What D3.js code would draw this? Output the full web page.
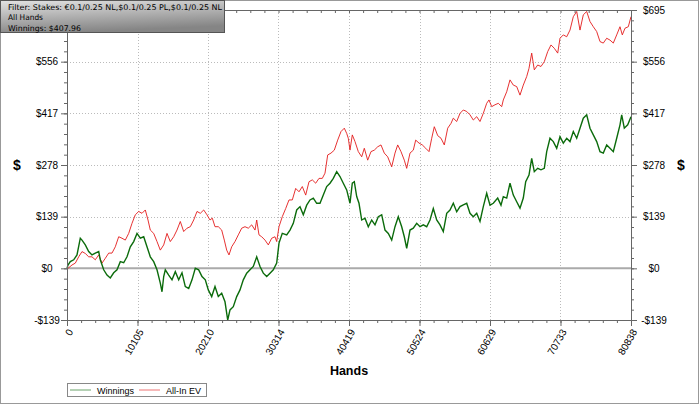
<!DOCTYPE html>
<html><head><meta charset="utf-8">
<script src="https://cdn.jsdelivr.net/npm/d3@7"></script>
<style>body{margin:0;background:#fff}svg{display:block}</style>
</head><body>
<svg id="c" width="700" height="407"></svg>
<script>
// ---- data ----
const xTicks = [0, 10105, 20210, 30314, 40419, 50524, 60629, 70733, 80838];
const yTicks = [-139, 0, 139, 278, 417, 556, 695];
const seriesNames = ["Winnings", "All-In EV"];
const filterLines = ["Filter: Stakes: €0.1/0.25 NL,$0.1/0.25 PL,$0.1/0.25 NL", "All Hands", "Winnings: $407.96"];

const winHands = [0,143,473,960,1433,1906,2150,2623,3110,3583,4056,4544,4773,5260,5733,6206,6694,7167,7640,8127,8600,9073,9560,10033,10506,10993,11466,11940,12427,12900,13373,13617,13860,14090,14576,15050,15523,16010,16483,16956,17443,17916,18389,18876,19350,19823,20253,20740,21213,21686,22173,22646,23033,23363,23836,24323,24796,25269,25756,26229,26703,27190,27663,28136,28623,29096,29569,30056,30386,30859,31490,31963,32436,32923,33396,33869,34356,34829,35302,35789,36262,36735,37222,37696,38169,38656,39129,39602,40089,40562,40892,41179,41523,41852,42239,42712,43185,43672,44145,44618,45106,45579,46052,46539,47012,47485,47972,48345,48689,49162,49635,50123,50596,51069,51556,52029,52502,52989,53462,53935,54423,54896,55369,55856,56329,56802,57289,57762,58235,58722,59195,59668,60155,60628,61101,61731,62205,62535,63022,63495,63968,64455,64928,65401,65745,66218,66605,66978,67465,67938,68411,68755,69228,69702,70189,70662,71135,71622,72095,72568,73055,73528,74001,74488,74961,75434,75922,76395,76868,77355,77828,78301,78788,79261,79505,79878,80365,80838];
const winValues = [0,9,18,23,36,81,76,63,45,36,41,45,23,-4,-18,-26,-12,-4,18,15,31,58,72,94,81,85,58,31,18,-4,-40,-63,-22,-4,-18,-31,-9,-31,-12,-49,-54,-31,0,-4,-22,-31,-58,-76,-49,-76,-67,-90,-139,-112,-103,-76,-58,-31,-13,-4,5,31,5,-13,-22,-13,-4,14,68,94,90,103,121,157,166,144,170,184,189,175,175,197,220,229,242,260,247,229,211,175,229,233,193,175,130,135,112,130,117,139,144,103,94,76,112,139,112,85,54,103,108,121,112,117,112,130,161,130,117,99,148,157,175,152,166,171,175,148,139,148,126,166,202,170,175,189,170,193,189,229,197,179,162,189,233,251,296,260,269,265,269,314,350,341,323,354,337,350,341,368,350,377,404,413,377,359,341,314,310,332,323,314,350,386,413,377,386,407.96];

const evHands = [0,143,717,1190,1677,2150,2623,3110,3583,4056,4544,5017,5490,5977,6450,6923,7410,7883,8356,8843,9316,9789,10277,10750,11223,11610,11940,12427,12900,13373,13860,14333,14806,15293,15766,16239,16726,17200,17673,18160,18633,19106,19593,20066,20496,20826,21213,21686,22173,22546,22890,23219,23606,24079,24553,25040,25513,25986,26473,26946,27190,27519,27906,28379,28852,29340,29813,30056,30386,30859,31347,31820,32293,32780,33253,33726,34213,34686,35159,35646,36119,36592,36979,37366,37839,38312,38799,39272,39745,40089,40318,40562,40892,41279,41752,42239,42612,43099,43572,44045,44532,45005,45478,45966,46539,47012,47399,47872,48345,48689,49162,49635,49979,50452,50925,51413,51886,52273,52645,53133,53606,54079,54566,55039,55369,55856,56329,56802,57289,57762,58235,58722,59195,59668,60155,60485,60872,61345,61818,62306,62535,63022,63495,63968,64455,64928,65401,65888,66218,66605,66978,67465,67938,68411,68898,69372,69845,70332,70662,71135,71622,72095,72568,73055,73528,74001,74488,74961,75434,75922,76395,76868,77355,77828,78301,78788,79261,79591,79978,80451,80838];
const evValues = [0,0,9,14,31,45,40,31,31,23,36,14,27,41,41,58,85,81,76,94,121,144,153,148,157,130,103,94,72,49,63,94,72,85,103,126,99,108,112,130,153,148,157,144,130,135,112,112,103,76,49,36,58,72,90,108,112,108,117,103,130,90,85,76,63,81,85,72,112,139,161,184,184,215,206,220,197,233,238,229,242,242,256,305,310,318,345,368,377,363,350,318,359,341,314,300,323,291,314,318,327,332,310,300,273,310,332,314,291,269,310,318,345,337,332,323,314,350,381,357,350,332,377,390,404,395,417,426,422,413,399,408,395,417,444,453,435,440,444,435,453,475,507,493,489,466,493,516,538,579,534,547,543,556,583,601,592,579,619,628,623,641,677,691,641,682,691,664,650,637,610,606,619,614,606,628,650,628,646,650,677];

// ---- chart ----
const svg = d3.select("#c");
const L = 67, R = 631, T = 10, B = 320;
const x = d3.scaleLinear().domain([0, 80838]).range([L, R]);
const y = d3.scaleLinear().domain([-139, 695]).range([B, T]);
const axisCol = "#666";
const money = d => d < 0 ? "-$" + (-d) : "$" + d;

// outer frame
svg.append("rect").attr("x", 0.5).attr("y", 0.5).attr("width", 698).attr("height", 403)
  .attr("fill", "none").attr("stroke", "#999");

// grid
const g = svg.append("g");
g.selectAll(".vg").data(xTicks.slice(1, -1)).join("line")
  .attr("x1", d => Math.round(x(d)) + 0.5).attr("x2", d => Math.round(x(d)) + 0.5)
  .attr("y1", T).attr("y2", B).attr("stroke", "#bbb").attr("stroke-dasharray", "1,2");
g.selectAll(".hg").data(yTicks.filter(d => d !== 0 && d !== -139 && d !== 695)).join("line")
  .attr("y1", d => Math.round(y(d)) + 0.5).attr("y2", d => Math.round(y(d)) + 0.5)
  .attr("x1", L).attr("x2", R).attr("stroke", "#bbb").attr("stroke-dasharray", "1,2");
g.append("line").attr("x1", L).attr("x2", R).attr("y1", y(0)).attr("y2", y(0))
  .attr("stroke", "#aaa").attr("stroke-width", 2);

// lines
const line = d3.line().x(d => x(d[0])).y(d => y(d[1]));
svg.append("path").datum(evHands.map((h, i) => [h, evValues[i]])).attr("d", line)
  .attr("fill", "none").attr("stroke", "#e31b1b").attr("stroke-width", 0.9);
svg.append("path").datum(winHands.map((h, i) => [h, winValues[i]])).attr("d", line)
  .attr("fill", "none").attr("stroke", "#0b6b0b").attr("stroke-width", 1.4);

// minor tick values
const xMinor = d3.range(0, 41).map(i => i * 80838 / 40);
const yMinor = d3.range(0, 31).map(i => -139 + i * 139 / 5);

function styleAxis(sel) {
  sel.select(".domain").attr("stroke", axisCol);
  sel.selectAll(".tick line").attr("stroke", axisCol);
  sel.selectAll("text").attr("fill", "#000").attr("font-family", "Liberation Sans, Arial, sans-serif").attr("font-size", 10);
}

// left axis (top label is hidden under the filter box in the reference)
svg.append("g").attr("transform", `translate(${L},0)`)
  .call(d3.axisLeft(y).tickValues(yMinor).tickSize(3).tickFormat("")).call(styleAxis);
const la = svg.append("g").attr("transform", `translate(${L},0)`)
  .call(d3.axisLeft(y).tickValues(yTicks).tickSize(6).tickFormat(d => d === 695 ? "" : money(d))).call(styleAxis);
la.selectAll("text").attr("text-anchor", "middle").attr("x", -20);

// right axis
svg.append("g").attr("transform", `translate(${R},0)`)
  .call(d3.axisRight(y).tickValues(yMinor).tickSize(3).tickFormat("")).call(styleAxis);
const ra = svg.append("g").attr("transform", `translate(${R},0)`)
  .call(d3.axisRight(y).tickValues(yTicks).tickSize(6).tickFormat(money)).call(styleAxis);
ra.selectAll("text").attr("text-anchor", "middle").attr("x", 23);

// bottom axis
svg.append("g").attr("transform", `translate(0,${B})`)
  .call(d3.axisBottom(x).tickValues(xMinor).tickSize(3).tickFormat("")).call(styleAxis);
const ba = svg.append("g").attr("transform", `translate(0,${B})`)
  .call(d3.axisBottom(x).tickValues(xTicks).tickSize(6).tickFormat(d => d)).call(styleAxis);
ba.selectAll("text").attr("x", 0).attr("y", 0).attr("dy", "0.35em").attr("text-anchor", "end")
  .attr("transform", "translate(3,10) rotate(-60)");

// top border with inward minor ticks
svg.append("g").attr("transform", `translate(0,${T})`)
  .call(d3.axisBottom(x).tickValues(xMinor).tickSize(3).tickFormat("")).call(styleAxis);

// axis titles
const tf = "Liberation Sans, Arial, sans-serif";
svg.append("text").attr("x", 349).attr("y", 375).attr("text-anchor", "middle")
  .attr("font-family", tf).attr("font-weight", "bold").attr("font-size", 12.5).text("Hands");
svg.append("text").attr("x", 17).attr("y", 170).attr("text-anchor", "middle")
  .attr("font-family", tf).attr("font-weight", "bold").attr("font-size", 14).text("$");
svg.append("text").attr("x", 681).attr("y", 170).attr("text-anchor", "middle")
  .attr("font-family", tf).attr("font-weight", "bold").attr("font-size", 14).text("$");

// filter box
const defs = svg.append("defs");
const lg = defs.append("linearGradient").attr("id", "fg").attr("x1", 0).attr("y1", 0).attr("x2", 0.3).attr("y2", 1);
lg.append("stop").attr("offset", "0%").attr("stop-color", "#e2e2e2");
lg.append("stop").attr("offset", "100%").attr("stop-color", "#858585");
svg.append("rect").attr("x", 0.5).attr("y", 0.5).attr("width", 224).attr("height", 32)
  .attr("fill", "url(#fg)").attr("stroke", "#555");
const fLens = [214, 35, 73];
svg.selectAll(".ft").data(filterLines).join("text")
  .attr("x", 8).attr("y", (d, i) => 9.5 + i * 10.5)
  .attr("font-family", "DejaVu Sans, Verdana, sans-serif").attr("font-size", 7.8)
  .attr("textLength", (d, i) => fLens[i]).attr("lengthAdjust", "spacingAndGlyphs")
  .attr("fill", "#000").text(d => d);

// legend
const leg = svg.append("g");
leg.append("rect").attr("x", 67.5).attr("y", 383.5).attr("width", 139).attr("height", 13)
  .attr("fill", "#fff").attr("stroke", "#888");
const legCols = ["#0b6b0b", "#e31b1b"];
const legX = [70, 139];
seriesNames.forEach((n, i) => {
  leg.append("line").attr("x1", legX[i]).attr("x2", legX[i] + 21).attr("y1", 390).attr("y2", 390)
    .attr("stroke", legCols[i]).attr("stroke-width", 1).attr("opacity", 0.6);
  leg.append("text").attr("x", legX[i] + 27).attr("y", 393.5).attr("font-family", tf)
    .attr("font-size", 9).attr("fill", "#000").text(n);
});
</script>
</body></html>
